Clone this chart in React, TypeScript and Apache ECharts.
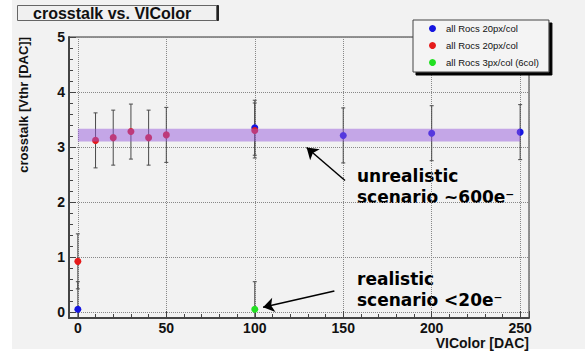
import React, { useEffect, useRef } from "react";
import * as echarts from "echarts";

// ---- data ----
const seriesNames = ["all Rocs 20px/col", "all Rocs 20px/col ", "all Rocs 3px/col (6col)"];
const blueX = [0, 100, 150, 200, 250];
const blueY = [0.05, 3.35, 3.21, 3.25, 3.27];
const blueErr = [0.5, 0.5, 0.5, 0.5, 0.5];
const redX = [0, 10, 20, 30, 40, 50, 100];
const redY = [0.92, 3.12, 3.17, 3.28, 3.17, 3.22, 3.3];
const redErr = [0.5, 0.5, 0.5, 0.5, 0.5, 0.5, 0.5];
const greenX = [100];
const greenY = [0.05];
const greenErr = [0.5];
const bandX = [0, 250];
const bandY = [3.1, 3.33];
const arrowUnrealistic = [[151, 2.39], [129.3, 2.99]];
const arrowRealistic = [[145, 0.38], [104.7, 0.085]];
const xTickStep = 50;

const FONT = "Liberation Sans";

export default function App() {
  const ref = useRef<HTMLDivElement>(null);
  useEffect(() => {
    if (!ref.current) return;
    const chart = echarts.init(ref.current, undefined, { renderer: "svg" });
    const errData: number[][] = [];
    const addErr = (xs: number[], ys: number[], es: number[]) =>
      xs.forEach((x, i) => errData.push([x, ys[i] - es[i], ys[i] + es[i]]));
    addErr(blueX, blueY, blueErr);
    addErr(redX, redY, redErr);
    addErr(greenX, greenY, greenErr);

    const pts = (xs: number[], ys: number[]) => xs.map((x, i) => [x, ys[i]]);

    chart.setOption({
      animation: false,
      backgroundColor: "#f2f2f2",
      title: {
        text: "crosstalk vs. VIColor",
        left: 17,
        top: 5,
        padding: [0, 25, 0, 16],
        textStyle: { fontSize: 16, fontWeight: "bold", fontFamily: FONT, color: "#111", lineHeight: 16 },
        borderColor: "#666",
        borderWidth: 1,
        backgroundColor: "#f0f0f0",
        shadowColor: "#222",
        shadowOffsetX: 2,
        shadowOffsetY: 0,
        shadowBlur: 0,
      },
      legend: {
        orient: "vertical",
        left: 413,
        top: 20,
        data: seriesNames,
        icon: "circle",
        itemWidth: 7,
        itemHeight: 7,
        itemGap: 6,
        padding: [3, 10, 4, 16],
        backgroundColor: "#f4f4f4",
        borderColor: "#444",
        borderWidth: 1,
        shadowColor: "#000",
        shadowOffsetX: 3,
        shadowOffsetY: 3,
        shadowBlur: 0,
        selectedMode: false,
        formatter: (n: string) => n.trim(),
        textStyle: { fontSize: 9.5, lineHeight: 11, fontFamily: FONT, color: "#111", padding: [0, 0, 0, 5] },
      },
      grid: {
        left: 69,
        right: 56,
        top: 37,
        bottom: 34,
        show: true,
        borderColor: "#333",
        borderWidth: 1,
        backgroundColor: "transparent",
      },
      xAxis: {
        type: "value",
        min: -5,
        max: 255,
        axisLine: { show: true, onZero: false, lineStyle: { color: "#444", width: 2 } },
        axisTick: { show: true, inside: true, length: 7, lineStyle: { color: "#444" } },
        minorTick: { show: true, splitNumber: 5, length: 4, lineStyle: { color: "#444" } },
        splitLine: { show: true, lineStyle: { type: "dotted", color: "#888" } },
        axisLabel: {
          showMinLabel: false,
          showMaxLabel: false,
          fontSize: 14,
          lineHeight: 14,
          fontWeight: "bold",
          fontFamily: FONT,
          color: "#111",
          margin: 3,
          formatter: (v: number) => (Math.abs(v % xTickStep) < 1e-6 ? String(Math.round(v)) : ""),
        },
      },
      yAxis: {
        type: "value",
        min: -0.11,
        max: 5,
        axisLine: { show: true, onZero: false, lineStyle: { color: "#444", width: 2 } },
        axisTick: { show: true, inside: true, length: 7, lineStyle: { color: "#444" } },
        minorTick: { show: true, splitNumber: 5, length: 4, lineStyle: { color: "#444" } },
        splitLine: { show: true, lineStyle: { type: "dotted", color: "#888" } },
        axisLabel: {
          showMinLabel: false,
          fontSize: 14,
          fontWeight: "bold",
          fontFamily: FONT,
          color: "#111",
          margin: 4,
          formatter: (v: number) => (Math.abs(v - Math.round(v)) < 1e-6 ? String(Math.abs(Math.round(v))) : ""),
        },
      },
      graphic: [
        { type: "rect", left: 0, top: 0, shape: { width: 12, height: 352 }, style: { fill: "#ffffff" }, silent: true },
        { type: "rect", left: 0, top: 349, shape: { width: 585, height: 3 }, style: { fill: "#ffffff" }, silent: true },
        {
          type: "text",
          x: 23,
          y: 37,
          rotation: Math.PI / 2,
          style: {
            text: "crosstalk [Vthr [DAC]]",
            align: "right",
            verticalAlign: "middle",
            fontSize: 13,
            fontWeight: "bold",
            fontFamily: FONT,
            fill: "#111",
          },
        },
        {
          type: "text",
          x: 529,
          y: 343,
          style: {
            text: "VIColor [DAC]",
            align: "right",
            verticalAlign: "middle",
            fontSize: 14,
            fontWeight: "bold",
            fontFamily: FONT,
            fill: "#111",
          },
        },
        {
          type: "text",
          left: 357,
          top: 165.5,
          style: {
            text: "unrealistic\nscenario ~600e\u207B",
            fontSize: 17,
            lineHeight: 21,
            fontWeight: "bold",
            fontFamily: "DejaVu Sans",
            fill: "#000",
          },
        },
        {
          type: "text",
          left: 357,
          top: 268.5,
          style: {
            text: "realistic\nscenario <20e\u207B",
            fontSize: 17,
            lineHeight: 21,
            fontWeight: "bold",
            fontFamily: "DejaVu Sans",
            fill: "#000",
          },
        },
      ],
      series: [
        {
          type: "custom",
          name: "errors",
          z: 1,
          clip: true,
          data: errData,
          encode: { x: 0, y: [1, 2] },
          renderItem: (params: any, api: any) => {
            const x = api.value(0);
            const p1 = api.coord([x, api.value(1)]);
            const p2 = api.coord([x, api.value(2)]);
            const cap = 2;
            const st = { stroke: "#4a4a4a", lineWidth: 1 };
            return {
              type: "group",
              children: [
                { type: "line", shape: { x1: p1[0], y1: p1[1], x2: p2[0], y2: p2[1] }, style: st },
                { type: "line", shape: { x1: p1[0] - cap, y1: p1[1], x2: p1[0] + cap, y2: p1[1] }, style: st },
                { type: "line", shape: { x1: p2[0] - cap, y1: p2[1], x2: p2[0] + cap, y2: p2[1] }, style: st },
              ],
            };
          },
        },
        {
          type: "scatter",
          name: seriesNames[0],
          z: 2,
          symbolSize: 7,
          itemStyle: { color: "#1515e0", opacity: 1 },
          data: pts(blueX, blueY),
        },
        {
          type: "scatter",
          name: seriesNames[1],
          z: 2,
          symbolSize: 7,
          itemStyle: { color: "#e51b1b", opacity: 1 },
          data: pts(redX, redY),
        },
        {
          type: "scatter",
          name: seriesNames[2],
          z: 2,
          symbolSize: 7,
          itemStyle: { color: "#22e022", opacity: 1 },
          data: pts(greenX, greenY),
          markLine: {
            silent: true,
            symbol: ["none", "arrow"],
            symbolSize: 11,
            lineStyle: { color: "#000", width: 1.5, type: "solid" },
            label: { show: false },
            emphasis: { disabled: true },
            data: [
              [{ coord: arrowUnrealistic[0] }, { coord: arrowUnrealistic[1] }],
              [{ coord: arrowRealistic[0] }, { coord: arrowRealistic[1] }],
            ],
          },
        },
        {
          type: "custom",
          name: "band",
          z: 3,
          data: [[bandX[0], bandY[0], bandX[1], bandY[1]]],
          encode: { x: [0, 2], y: [1, 3] },
          renderItem: (params: any, api: any) => {
            const p1 = api.coord([api.value(0), api.value(3)]);
            const p2 = api.coord([api.value(2), api.value(1)]);
            return {
              type: "rect",
              shape: { x: p1[0], y: p1[1], width: p2[0] - p1[0], height: p2[1] - p1[1] },
              style: { fill: "rgba(150, 90, 220, 0.5)" },
            };
          },
        },
      ],
    });
    return () => chart.dispose();
  }, []);
  return (
    <div
      ref={ref}
      style={{ position: "fixed", left: 0, top: 0, width: 585, height: 352 }}
    />
  );
}
